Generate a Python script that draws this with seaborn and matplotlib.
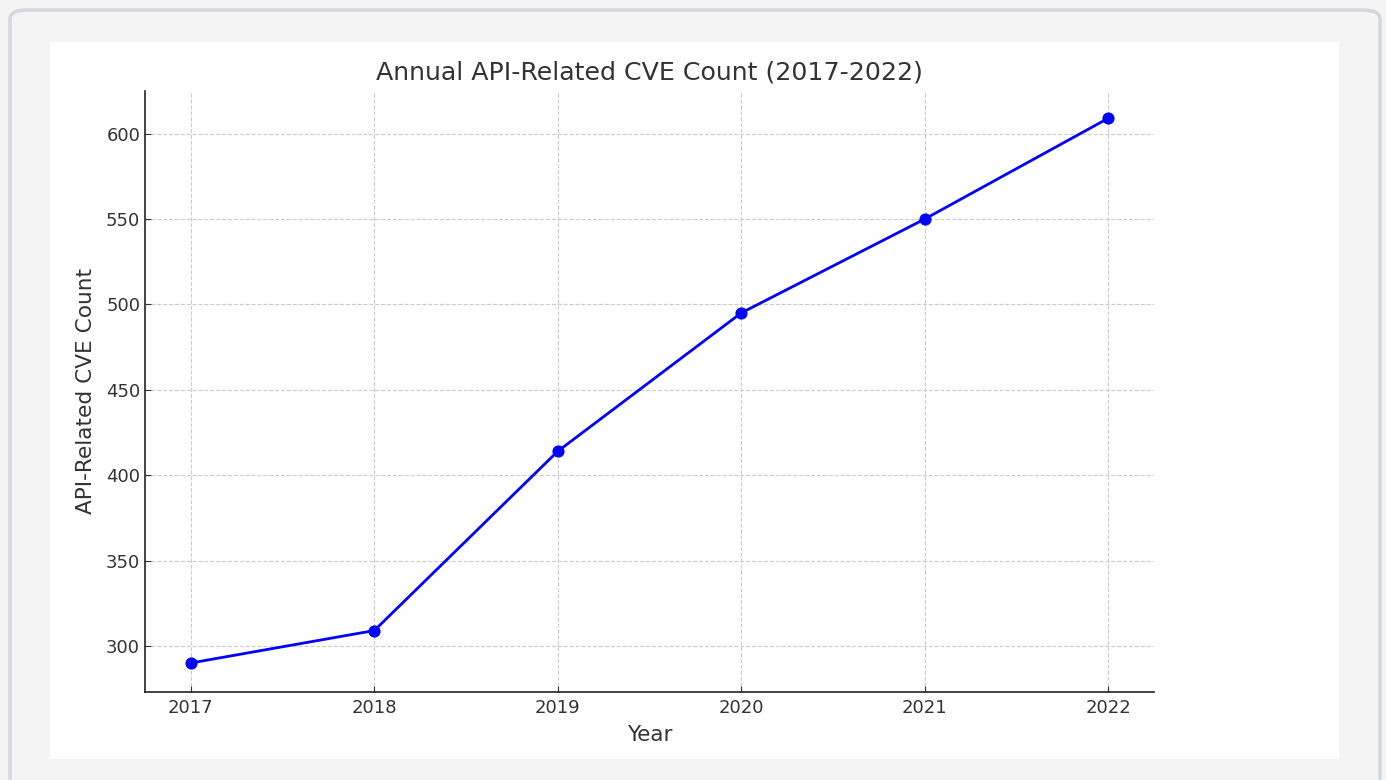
import pandas as pd
import matplotlib.pyplot as plt
import seaborn as sns
from matplotlib.patches import FancyBboxPatch, Rectangle

years = [2017, 2018, 2019, 2020, 2021, 2022]
cve_counts = [290, 309, 414, 495, 550, 609]

df = pd.DataFrame({'Year': years, 'Count': cve_counts})

sns.set_style('ticks')
plt.rcParams['font.family'] = ['DejaVu Sans']

fig = plt.figure(figsize=(13.86, 7.80), dpi=100, facecolor='#f4f4f5')
# screenshot frame
fig.patches.append(FancyBboxPatch((10 / 1386, -20 / 780), 1370 / 1386, 790 / 780,
                                  boxstyle='round,pad=0,rounding_size=0.012',
                                  transform=fig.transFigure, facecolor='#f4f4f5',
                                  edgecolor='#d3d7e0', linewidth=2.5, zorder=0))
fig.patches.append(Rectangle((50 / 1386, 21 / 780), 1289 / 1386, 717 / 780,
                             transform=fig.transFigure, facecolor='white',
                             edgecolor='none', zorder=1))

ax = fig.add_axes([145 / 1386, 88 / 780, 1009 / 1386, 601 / 780])
ax.set_facecolor('white')
ax.set_zorder(2)

sns.lineplot(data=df, x='Year', y='Count', marker='o', color='blue',
             linewidth=2, markersize=8, markeredgecolor='blue', ax=ax)

ax.set_title('Annual API-Related CVE Count (2017-2022)', fontsize=18.2,
             color='#333333', pad=8)
ax.set_xlabel('Year', fontsize=15.5, color='#333333', labelpad=5.5)
ax.set_ylabel('API-Related CVE Count', fontsize=15.6, color='#333333', labelpad=7)
ax.set_xticks(years)
ax.set_yticks([300, 350, 400, 450, 500, 550, 600])
ax.set_ylim(273, 625)
ax.set_xlim(2016.75, 2022.25)
ax.tick_params(direction='in', labelsize=13, colors='#333333', length=4)
ax.tick_params(axis='x', pad=5)
ax.grid(True, linestyle='--', color='#cccccc', linewidth=0.8)
sns.despine(ax=ax)
for s in ['left', 'bottom']:
    ax.spines[s].set_color('#222222')
    ax.spines[s].set_linewidth(1.2)

fig.savefig('out.png', dpi=100, facecolor=fig.get_facecolor())
